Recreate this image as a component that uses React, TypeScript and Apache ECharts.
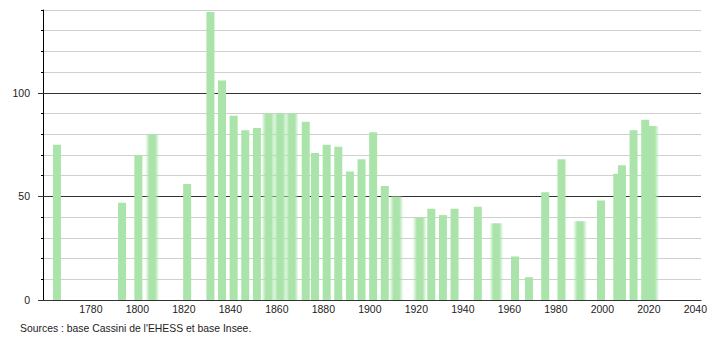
import React, { useEffect, useRef } from 'react';
import * as echarts from 'echarts';

const YEARS = [1765, 1793, 1800, 1806, 1821, 1831, 1836, 1841, 1846, 1851, 1856, 1861, 1866, 1872, 1876, 1881, 1886, 1891, 1896, 1901, 1906, 1911, 1921, 1926, 1931, 1936, 1946, 1954, 1962, 1968, 1975, 1982, 1990, 1999, 2006, 2008, 2013, 2018, 2021];
const POPULATION = [75, 47, 70, 80, 56, 139, 106, 89, 82, 83, 90, 90, 90, 86, 71, 75, 74, 62, 68, 81, 55, 50, 40, 44, 41, 44, 45, 37, 21, 11, 52, 68, 38, 48, 61, 65, 82, 87, 84];
const ESTIMATED_YEARS = [1806, 1856, 1861, 1866, 1911, 1921, 1954, 1990, 2021];
const X_TICK_LABELS = [1780, 1800, 1820, 1840, 1860, 1880, 1900, 1920, 1940, 1960, 1980, 2000, 2020, 2040];
const Y_MAJOR = [0, 50, 100];
const X_MIN = 1759;
const X_MAX = 2042;
const Y_MAX = 140;
const SOURCE = "Sources : base Cassini de l'EHESS et base Insee.";

const GREEN = '#aae4aa';
const GREEN_0 = 'rgba(170,228,170,0)';
const FONT = "'Liberation Sans', Arial, Helvetica, sans-serif";

export default function App() {
  const ref = useRef<HTMLDivElement>(null);
  useEffect(() => {
    document.body.style.margin = '0';
    const chart = echarts.init(ref.current as HTMLDivElement, null, { renderer: 'svg' });
    const barData = YEARS.map((y, i) => [y, POPULATION[i], ESTIMATED_YEARS.includes(y) ? 1 : 0]);
    chart.setOption({
      animation: false,
      grid: { left: 43, right: 9, top: 10, bottom: 40, containLabel: false },
      xAxis: {
        type: 'value',
        min: X_MIN,
        max: X_MAX,
        axisLine: { show: true, onZero: false, lineStyle: { color: '#000', width: 1 } },
        axisTick: { show: false },
        axisLabel: { show: false },
        splitLine: { show: false },
      },
      yAxis: {
        type: 'value',
        min: 0,
        max: Y_MAX,
        interval: 10,
        axisLine: { show: true, lineStyle: { color: '#000', width: 1 } },
        axisTick: { show: true, length: 2, lineStyle: { color: '#000' } },
        axisLabel: {
          formatter: (v: number) => (v % 50 === 0 ? String(v) : ''),
          color: '#222',
          fontSize: 10.5,
          fontFamily: FONT,
          margin: 13,
        },
        splitLine: { show: true, lineStyle: { color: '#cfcfcf', width: 1 } },
      },
      series: [
        {
          type: 'custom',
          name: 'major',
          z: 1,
          clip: false,
          silent: true,
          data: Y_MAJOR.map((v) => [X_MIN, v]),
          renderItem: (params: any, api: any) => {
            const cs = params.coordSys;
            const p = api.coord([api.value(0), api.value(1)]);
            const y = Math.round(p[1]) + 0.5;
            return {
              type: 'line',
              shape: { x1: cs.x - 5, y1: y, x2: cs.x + cs.width, y2: y },
              style: { stroke: '#333', lineWidth: 1 },
            };
          },
        },
        {
          type: 'custom',
          name: 'population',
          z: 2,
          data: barData,
          renderItem: (params: any, api: any) => {
            const top = api.coord([api.value(0), api.value(1)]);
            const base = api.coord([api.value(0), 0]);
            const est = api.value(2) === 1;
            if (!est) {
              return {
                type: 'rect',
                shape: { x: top[0] - 4, y: top[1], width: 8, height: base[1] - top[1] },
                style: { fill: GREEN },
              };
            }
            return {
              type: 'rect',
              shape: { x: top[0] - 7, y: top[1], width: 14, height: base[1] - top[1] },
              style: {
                fill: new echarts.graphic.LinearGradient(0, 0, 1, 0, [
                  { offset: 0, color: GREEN_0 },
                  { offset: 0.3, color: GREEN },
                  { offset: 0.7, color: GREEN },
                  { offset: 1, color: GREEN_0 },
                ]),
              },
            };
          },
        },
        {
          type: 'custom',
          name: 'xlabels',
          z: 3,
          clip: false,
          silent: true,
          data: X_TICK_LABELS.map((t) => [t, 0]),
          renderItem: (params: any, api: any) => {
            const p = api.coord([api.value(0), 0]);
            return {
              type: 'text',
              x: p[0] - 1,
              y: p[1] + 3,
              style: {
                text: String(api.value(0)),
                align: 'center',
                verticalAlign: 'top',
                fontSize: 10.5,
                fontFamily: FONT,
                fill: '#222',
              },
            };
          },
        },
      ],
      graphic: [
        {
          type: 'text',
          left: 20,
          top: 323,
          style: { text: SOURCE, fontSize: 10.4, fontFamily: FONT, fill: '#222' },
        },
      ],
    });
    return () => chart.dispose();
  }, []);
  return <div ref={ref} style={{ position: 'absolute', left: 0, top: 0, width: 710, height: 340 }} />;
}
